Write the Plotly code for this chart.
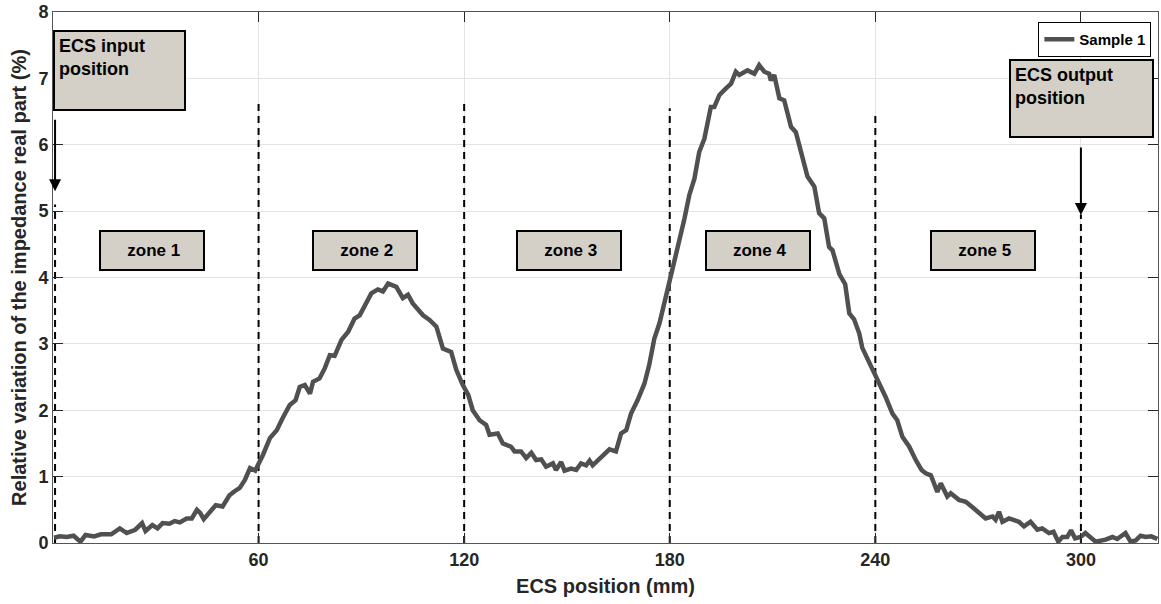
import plotly.graph_objects as go

# ECS position (mm) and relative variation of impedance real part (%)
position_mm = [0.3, 2, 4, 6, 8, 9.5, 12, 14, 17, 19.5, 21.5, 24, 26, 27, 29, 30.5, 32, 34, 35.5, 37,
               39, 40.5, 42, 43, 44, 45.5, 47.5, 49.5, 51.5, 53, 54.5, 56, 57.5, 59, 60, 61.3, 63.3,
               65.3, 67, 69.1, 70.8, 72, 73.5, 75, 75.9, 77.8, 79.3, 80.8, 82.2, 84.2, 86.1, 88, 89.5,
               91.5, 92.9, 94.8, 96.3, 97.8, 99.2, 100.2, 102.1, 103.6, 105, 106.5, 108, 109.9, 111.9,
               113.8, 116.2, 117.7, 119.6, 121.2, 122.5, 124.5, 126.4, 127.4, 129.8, 131.3, 133.7,
               134.7, 136.6, 138.1, 139.6, 141, 142.5, 143.9, 145.9, 146.8, 148.3, 149.3, 151.2,
               152.7, 154.1, 155.6, 156.6, 157.5, 159, 160.4, 162.4, 164.3, 165.8, 167.3, 168.7,
               170.6, 172.6, 174, 175.5, 177, 178.9, 180.4, 181.8, 182.8, 184.3, 185.7, 187.2, 188.6,
               190.1, 192, 193, 194.5, 196.4, 197.9, 199.3, 200.3, 202.7, 204.7, 206.1, 207.6, 209,
               209.5, 210.5, 212, 213.4, 215.4, 216.8, 217.8, 220.2, 222.2, 223.6, 225.1, 226.5,
               227.5, 229.5, 231.2, 232.4, 233.8, 235.3, 236.2, 238, 240.1, 243, 245, 246.4, 247.9,
               249.9, 251.8, 253.5, 254.7, 256.2, 258.1, 259.1, 261, 262, 264.4, 266.4, 268.8, 270.5,
               272.2, 274.2, 275.1, 276.1, 277.1, 279, 281.9, 283.4, 285.3, 287.3, 288.7, 290.7, 292,
               293.4, 294.6, 296, 297.1, 298.3, 299.9, 301.3, 304.3, 307.2, 309.2, 310.6, 313, 314.5,
               316, 317.4, 318.9, 320.5, 322.3]
variation_pct = [0.08, 0.10, 0.09, 0.11, 0.02, 0.12, 0.10, 0.13, 0.13, 0.22, 0.15, 0.20, 0.30, 0.18,
                 0.27, 0.22, 0.30, 0.29, 0.33, 0.31, 0.37, 0.37, 0.50, 0.45, 0.36, 0.45, 0.57, 0.55,
                 0.72, 0.78, 0.83, 0.95, 1.13, 1.09, 1.18, 1.33, 1.58, 1.70, 1.88, 2.08, 2.15, 2.35,
                 2.38, 2.25, 2.43, 2.48, 2.63, 2.83, 2.82, 3.06, 3.18, 3.38, 3.43, 3.61, 3.76, 3.82,
                 3.79, 3.91, 3.89, 3.86, 3.69, 3.74, 3.61, 3.51, 3.43, 3.36, 3.26, 2.93, 2.88, 2.61,
                 2.38, 2.23, 2.00, 1.85, 1.78, 1.63, 1.65, 1.50, 1.45, 1.38, 1.38, 1.28, 1.36, 1.25,
                 1.26, 1.15, 1.20, 1.10, 1.22, 1.09, 1.12, 1.10, 1.20, 1.17, 1.24, 1.17, 1.24, 1.30,
                 1.41, 1.38, 1.65, 1.70, 1.95, 2.15, 2.40, 2.68, 3.08, 3.31, 3.70, 4.02, 4.35, 4.56,
                 4.89, 5.24, 5.49, 5.89, 6.09, 6.57, 6.57, 6.75, 6.85, 6.92, 7.10, 7.05, 7.12, 7.07,
                 7.20, 7.10, 7.07, 6.97, 7.05, 6.70, 6.67, 6.27, 6.19, 5.99, 5.52, 5.37, 4.97, 4.89,
                 4.46, 4.41, 4.05, 3.90, 3.46, 3.37, 3.16, 2.94, 2.75, 2.53, 2.20, 1.95, 1.85, 1.60,
                 1.45, 1.25, 1.10, 1.05, 1.02, 0.77, 0.90, 0.70, 0.75, 0.65, 0.62, 0.52, 0.45, 0.37,
                 0.40, 0.35, 0.47, 0.32, 0.37, 0.32, 0.25, 0.32, 0.20, 0.22, 0.15, 0.17, 0.02, 0.09,
                 0.09, 0.19, 0.07, 0.09, 0.15, 0.02, 0.05, 0.09, 0.06, 0.15, 0.02, 0.04, 0.11, 0.09,
                 0.10, 0.06]

# Zone boundaries (dashed lines) and their heights
boundary_x = [0.6, 60, 120, 180, 240, 300]
boundary_top = [5.1, 6.63, 6.67, 6.55, 6.45, 4.95]

# Zone labels
zone_labels = ["zone 1", "zone 2", "zone 3", "zone 4", "zone 5"]
zone_centers = [28.9, 91.1, 150.6, 205.7, 271.3]
zone_label_y = 4.4

x_ticks = [60, 120, 180, 240, 300]
y_ticks = [0, 1, 2, 3, 4, 5, 6, 7, 8]

FONT = "Liberation Sans"
TXT = "#262626"
BOXFILL = "#d4d0c8"

fig = go.Figure()

for bx, bt in zip(boundary_x, boundary_top):
    fig.add_trace(go.Scatter(x=[bx, bx], y=[0, bt], mode="lines",
                             line=dict(color="black", width=2, dash="7px,5px"),
                             showlegend=False, hoverinfo="skip"))

fig.add_trace(go.Scatter(x=position_mm, y=variation_pct, mode="lines", name="Sample 1",
                         line=dict(color="#505050", width=4.5)))

annotations = []
for lab, cx in zip(zone_labels, zone_centers):
    annotations.append(dict(x=cx, y=zone_label_y, xref="x", yref="y",
                            text="\u2009" + lab, showarrow=False,
                            font=dict(family=FONT, size=17, color="black", weight="bold"),
                            bgcolor=BOXFILL, bordercolor="black", borderwidth=2, borderpad=0,
                            width=102, height=37, xanchor="center", yanchor="middle"))

annotations.append(dict(x=0, y=7.73, xref="x", yref="y", text="ECS input<br>position",
                        showarrow=False, align="left", valign="top",
                        font=dict(family=FONT, size=18, color="black", weight="bold"),
                        bgcolor=BOXFILL, bordercolor="black", borderwidth=2, borderpad=4,
                        width=121, height=69, xanchor="left", yanchor="top"))
annotations.append(dict(x=279, y=7.29, xref="x", yref="y", text="ECS output<br>position",
                        showarrow=False, align="left", valign="top",
                        font=dict(family=FONT, size=18, color="black", weight="bold"),
                        bgcolor=BOXFILL, bordercolor="black", borderwidth=2, borderpad=4,
                        width=133, height=67, xanchor="left", yanchor="top"))

# arrows
annotations.append(dict(x=0.6, y=5.3, ax=0.6, ay=6.4, xref="x", yref="y", axref="x", ayref="y",
                        text="", showarrow=True, arrowhead=2, arrowsize=1.2, arrowwidth=2,
                        arrowcolor="black"))
annotations.append(dict(x=300, y=4.94, ax=300, ay=5.98, xref="x", yref="y", axref="x", ayref="y",
                        text="", showarrow=True, arrowhead=2, arrowsize=1.2, arrowwidth=2,
                        arrowcolor="black"))

fig.update_layout(
    width=1161, height=604,
    margin=dict(l=53, r=3, t=12, b=61),
    paper_bgcolor="white", plot_bgcolor="white",
    font=dict(family=FONT, color=TXT),
    annotations=annotations,
    legend=dict(x=0.994, xanchor="right", y=0.981, yanchor="top",
                bordercolor="black", borderwidth=1, bgcolor="white",
                font=dict(family=FONT, size=15, color="black", weight="bold"),
                tracegroupgap=0, itemwidth=30),
    xaxis=dict(range=[0, 322.5], tickvals=x_ticks, ticktext=[str(v) for v in x_ticks],
               showgrid=True, gridcolor="#e3e3e3", gridwidth=1,
               showline=True, linecolor="#555555", linewidth=1, mirror="ticks",
               ticks="inside", ticklen=10, tickcolor="#262626",
               tickfont=dict(family=FONT, size=18, color=TXT, weight="bold"),
               title=dict(text="ECS position (mm)", standoff=10,
                          font=dict(family=FONT, size=20, color=TXT, weight="bold")),
               zeroline=False),
    yaxis=dict(range=[0, 8], tickvals=y_ticks,
               showgrid=True, gridcolor="#e3e3e3", gridwidth=1,
               showline=True, linecolor="#555555", linewidth=1, mirror="ticks",
               ticks="inside", ticklen=10, tickcolor="#262626",
               tickfont=dict(family=FONT, size=18, color=TXT, weight="bold"),
               title=dict(text="Relative variation of the impedance real part (%)", standoff=6,
                          font=dict(family=FONT, size=20, color=TXT, weight="bold")),
               zeroline=False),
)

fig.write_html("out.html")
